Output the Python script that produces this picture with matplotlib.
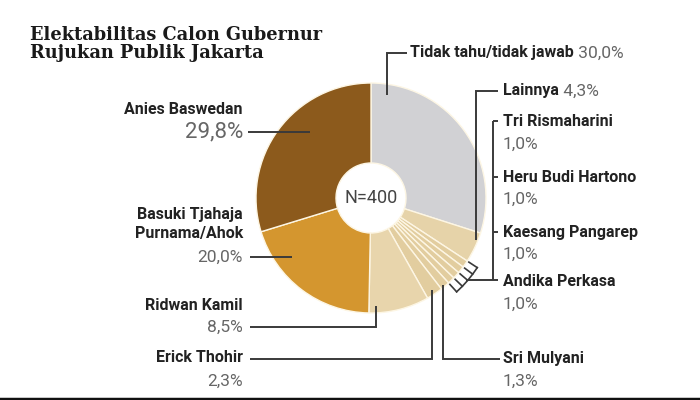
import numpy as np
import matplotlib
matplotlib.use('Agg')
import matplotlib.pyplot as plt

# data
labels = ['Tidak tahu/tidak jawab', 'Lainnya', 'Tri Rismaharini', 'Heru Budi Hartono',
          'Kaesang Pangarep', 'Andika Perkasa', 'Sri Mulyani', 'Erick Thohir',
          'Ridwan Kamil', 'Basuki Tjahaja\nPurnama/Ahok', 'Anies Baswedan']
values = [30.0, 4.3, 1.0, 1.0, 1.0, 1.0, 1.3, 2.3, 8.5, 20.0, 29.8]
colors = ['#d1d1d4', '#e6d3a9', '#e2cd9f', '#e2cd9f', '#e2cd9f', '#e2cd9f',
          '#e2cd9f', '#e2cd9f', '#e8d5ac', '#d4962f', '#8c5a1c']
n_resp = 400
title = 'Elektabilitas Calon Gubernur\nRujukan Publik Jakarta'

H = 400
def Y(y):
    return H - y

def pct(v):
    return ('%.1f' % v).replace('.', ',') + '%'

SANS = ['Roboto', 'DejaVu Sans']
LINE = '#3a3a3a'

fig = plt.figure(figsize=(7, 4), dpi=100)
ax = fig.add_axes([0, 0, 1, 1])

cx, cy, R, hole = 371, Y(198), 115, 35
wedges, _ = ax.pie(values, colors=colors, startangle=90, counterclock=False,
                   center=(cx, cy), radius=R,
                   wedgeprops=dict(width=R - hole, edgecolor='#fdf6e4', linewidth=1))
ax.set_xlim(0, 700)
ax.set_ylim(0, 400)
ax.set_aspect('equal')
ax.axis('off')

ax.text(cx, cy, 'N=%d' % n_resp, ha='center', va='center', fontsize=13,
        color='#444444', family=SANS)

# title
ax.text(30, Y(26), title, ha='left', va='top', fontsize=12.8, fontweight='bold',
        family=['DejaVu Serif'], color='#1a1a1a', linespacing=1.0)

def seg(pts):
    xs = [p[0] for p in pts]
    ys = [Y(p[1]) for p in pts]
    ax.plot(xs, ys, color=LINE, lw=1.4, solid_capstyle='butt', solid_joinstyle='miter')

# leader lines
seg([(387, 95), (387, 53), (407, 53)])
seg([(476, 240), (476, 91), (498, 91)])
seg([(493, 121), (493, 280)])
for yy in [121, 177, 232]:
    seg([(493, yy), (498, yy)])
seg([(466, 280), (498, 280)])
seg([(443, 285), (443, 359), (500, 359)])
seg([(432, 290), (432, 359), (250, 359)])
seg([(376, 306), (376, 327), (250, 327)])
seg([(250, 257), (292, 257)])
seg([(248, 132), (310, 132)])

# small comb over the four 1% slices
bounds = sorted(set([w.theta1 for w in wedges[2:6]] + [w.theta2 for w in wedges[2:6]]))
ro, ri = 127, 117
for a in bounds:
    t = np.radians(a)
    ax.plot([cx + ri * np.cos(t), cx + ro * np.cos(t)],
            [cy + ri * np.sin(t), cy + ro * np.sin(t)], color=LINE, lw=1.2)
tt = np.radians(np.linspace(bounds[0], bounds[-1], 30))
ax.plot(cx + ro * np.cos(tt), cy + ro * np.sin(tt), color=LINE, lw=1.2)

NAME = dict(fontsize=11.5, fontweight='bold', color='#222222', family=SANS)
NUM = dict(fontsize=12.5, color='#666666', family=SANS)

# right side labels
t = ax.text(410, Y(53), labels[0], ha='left', va='center', **NAME)
ax.annotate(' ' + pct(values[0]), xy=(1, 0), xycoords=t, ha='left', va='bottom', **NUM)
t = ax.text(503, Y(91), labels[1], ha='left', va='center', **NAME)
ax.annotate(' ' + pct(values[1]), xy=(1, 0), xycoords=t, ha='left', va='bottom', **NUM)

right_pos = {2: (121, 144), 3: (177, 199), 4: (232, 254), 5: (281, 304), 6: (359, 381)}
for i, (yn, yp) in right_pos.items():
    ax.text(503, Y(yn), labels[i], ha='left', va='center', **NAME)
    ax.text(503, Y(yp), pct(values[i]), ha='left', va='center', **NUM)

# left side labels
left_pos = {10: (110, 132), 9: (224, 257), 8: (305, 327), 7: (358, 381)}
for i, (yn, yp) in left_pos.items():
    ax.text(243, Y(yn), labels[i], ha='right', va='center', linespacing=1.3, **NAME)
    num = dict(NUM)
    if i == 10:
        num['fontsize'] = 16
    ax.text(243, Y(yp), pct(values[i]), ha='right', va='center', **num)

# bottom border
ax.plot([0, 700], [1, 1], color='#111111', lw=2.5)

fig.savefig('out.png', dpi=100, facecolor='white')
